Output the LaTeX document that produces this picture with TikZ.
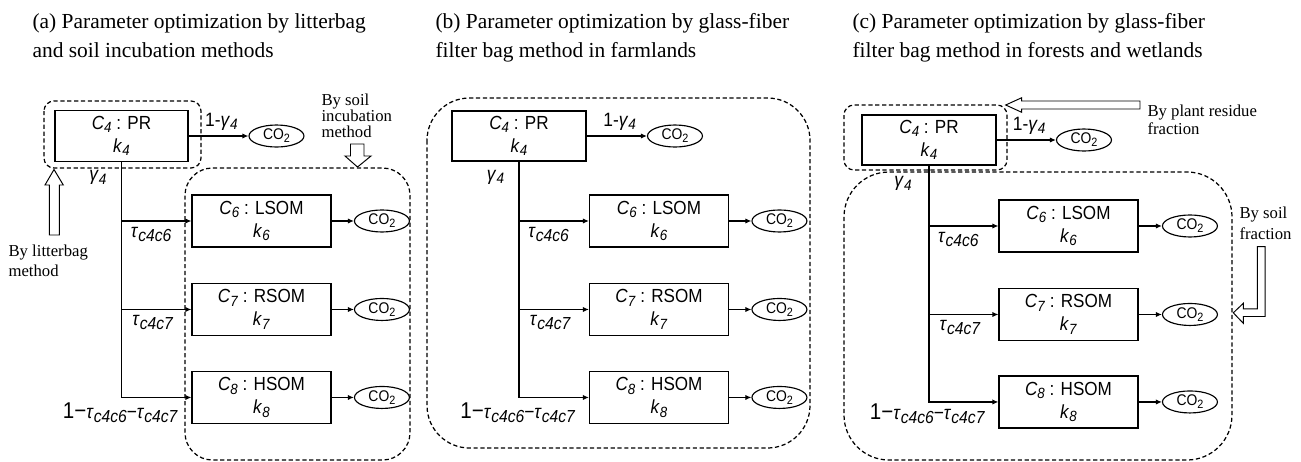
\documentclass[tikz,border=0pt]{standalone}
\usepackage{fontspec}
\usepackage{graphicx}
\setmainfont{Liberation Serif}
\newfontfamily\gothic[FakeStretch=0.9]{Liberation Sans}
\usetikzlibrary{arrows.meta,positioning,shapes.geometric}

% pool names and rate constants
\newcommand\lowidx[1]{\raisebox{-0.35ex}{\scalebox{0.78}{#1}}}
\newcommand\carbon[1]{\textit{C}\lowidx{\textit{#1}}}
\newcommand\rate[1]{\textit{k}\lowidx{\textit{#1}}}
\newcommand\transfer[1]{\textit{τ}\raisebox{-0.4ex}{\scalebox{0.9}{\textit{c4c#1}}}}
\newcommand\gasout{CO\lowidx{2}}

\begin{document}
\begin{tikzpicture}[%
    >={Latex[length=3.4pt,width=3pt]},
    x=0.02cm, y=-0.02cm,
    on grid,
    line width=0.65pt,
    pool/.style={draw, minimum width=2.78cm, minimum height=1.04cm, inner sep=0pt,
        align=center, font=\gothic\fontsize{10.8}{13}\selectfont},
    gas/.style={draw, ellipse, minimum width=1.1cm, minimum height=0.44cm, inner sep=0pt,
        font=\gothic\fontsize{8.8}{8.8}\selectfont},
    flux/.style={font=\gothic\fontsize{11}{12}\selectfont, inner sep=1pt},
    frame/.style={draw, line width=0.7pt, dash pattern=on 2.4pt off 1.5pt},
    hollow/.style={draw, fill=white, line width=0.55pt, line join=miter},
    note/.style={font=\fontsize{9.5}{10.5}\selectfont, align=left, inner sep=0pt, anchor=west},
    heading/.style={font=\fontsize{12.2}{16.5}\selectfont, align=left, inner sep=0pt, anchor=north west}
    ]

    \path[use as bounding box, fill=white] (0,0) rectangle (1301,461);

    % titles
    \node[heading] (tita) at (32,13) {(a) Parameter optimization by litterbag\\and soil incubation methods};
    \node[heading] (titb) at (435,13) {(b) Parameter optimization by glass-fiber\\filter bag method in farmlands};
    \node[heading] (titc) at (852,13) {(c) Parameter optimization by glass-fiber\\filter bag method in forests and wetlands};

    % (a) litterbag and soil incubation
    \node[pool, minimum width=2.66cm, minimum height=1.02cm] (pra) at (121.5,136) {\carbon{4} : PR\\\rate{4}};
    \node[gas] (coa4) [right=3.1cm of pra] {\gasout};
    \node[pool] (lsa) [below right=1.7cm and 2.8cm of pra] {\carbon{6} : LSOM\\\rate{6}};
    \node[pool] (rsa) [below=1.77cm of lsa] {\carbon{7} : RSOM\\\rate{7}};
    \node[pool] (hsa) [below=1.76cm of rsa] {\carbon{8} : HSOM\\\rate{8}};
    \node[gas] (coa6) [right=2.41cm of lsa] {\gasout};
    \node[gas] (coa7) [right=2.41cm of rsa] {\gasout};
    \node[gas] (coa8) [right=2.41cm of hsa] {\gasout};
    \node[flux] (gaa) [below left=0.31cm and 0.47cm of pra.south, anchor=center] {\textit{γ}\lowidx{\textit{4}}};
    \node[flux] (rema) [below left=0.31cm and 1.42cm of hsa.west, anchor=center]
        {{\fontsize{13}{13}\selectfont 1−}\transfer{6}−\transfer{7}};

    \path[->] (pra) edge node[flux, above=2pt, pos=0.55] {1-\textit{γ}\lowidx{\textit{4}}} (coa4);
    \draw[->] (pra.south) |- (hsa);
    \draw[->] (pra.south |- lsa) -- node[flux, below=2pt, xshift=-3pt] {\transfer{6}} (lsa);
    \draw[->] (pra.south |- rsa) -- node[flux, below=2pt, xshift=-2pt] {\transfer{7}} (rsa);
    \path[->] (lsa) edge (coa6) (rsa) edge (coa7) (hsa) edge (coa8);

    \draw[frame, rounded corners=0.2cm] (44,101) rectangle (201,168);
    \draw[frame, rounded corners=0.55cm] (185,168) rectangle (410,460);
    \node[note, font=\fontsize{9.5}{9}\selectfont] (soila) at (321,116) {By soil\\incubation\\method};
    \draw[hollow] (350.5,144) -- (364,144) -- (364,156) -- (371,156) -- (357.5,167)
        -- (345,156) -- (350.5,156) -- cycle;
    \node[note, font=\fontsize{9.5}{11.5}\selectfont] (bagnote) at (8,261) {By litterbag\\method};
    \draw[hollow] (49.3,235) -- (49.3,185) -- (45,185) -- (54,169.5) -- (63.3,185)
        -- (59.3,185) -- (59.3,235) -- cycle;

    % (b) glass-fiber bags in farmlands
    \node[pool, minimum width=2.68cm, minimum height=1.0cm] (prb) at (519,136) {\carbon{4} : PR\\\rate{4}};
    \node[gas] (cob4) [right=3.12cm of prb] {\gasout};
    \node[pool] (lsb) [below right=1.7cm and 2.8cm of prb] {\carbon{6} : LSOM\\\rate{6}};
    \node[pool] (rsb) [below=1.77cm of lsb] {\carbon{7} : RSOM\\\rate{7}};
    \node[pool] (hsb) [below=1.76cm of rsb] {\carbon{8} : HSOM\\\rate{8}};
    \node[gas] (cob6) [right=2.41cm of lsb] {\gasout};
    \node[gas] (cob7) [right=2.41cm of rsb] {\gasout};
    \node[gas] (cob8) [right=2.41cm of hsb] {\gasout};
    \node[flux] (gab) [below left=0.31cm and 0.47cm of prb.south, anchor=center] {\textit{γ}\lowidx{\textit{4}}};
    \node[flux] (remb) [below left=0.31cm and 1.42cm of hsb.west, anchor=center]
        {{\fontsize{13}{13}\selectfont 1−}\transfer{6}−\transfer{7}};

    \path[->] (prb) edge node[flux, above=2pt, pos=0.55] {1-\textit{γ}\lowidx{\textit{4}}} (cob4);
    \draw[->] (prb.south) |- (hsb);
    \draw[->] (prb.south |- lsb) -- node[flux, below=2pt, xshift=-3pt] {\transfer{6}} (lsb);
    \draw[->] (prb.south |- rsb) -- node[flux, below=2pt, xshift=-2pt] {\transfer{7}} (rsb);
    \path[->] (lsb) edge (cob6) (rsb) edge (cob7) (hsb) edge (cob8);

    \draw[frame, rounded corners=0.85cm] (427,98) rectangle (810,448);

    % (c) glass-fiber bags in forests and wetlands
    \node[pool, minimum width=2.68cm, minimum height=1.0cm] (prc) at (929,140) {\carbon{4} : PR\\\rate{4}};
    \node[gas] (coc4) [right=3.1cm of prc] {\gasout};
    \node[pool] (lsc) [below right=1.72cm and 2.79cm of prc] {\carbon{6} : LSOM\\\rate{6}};
    \node[pool] (rsc) [below=1.77cm of lsc] {\carbon{7} : RSOM\\\rate{7}};
    \node[pool] (hsc) [below=1.75cm of rsc] {\carbon{8} : HSOM\\\rate{8}};
    \node[gas] (coc6) [right=2.43cm of lsc] {\gasout};
    \node[gas] (coc7) [right=2.43cm of rsc] {\gasout};
    \node[gas] (coc8) [right=2.43cm of hsc] {\gasout};
    \node[flux] (gac) [below left=0.36cm and 0.52cm of prc.south, anchor=center] {\textit{γ}\lowidx{\textit{4}}};
    \node[flux] (remc) [below left=0.24cm and 1.42cm of hsc.west, anchor=center]
        {{\fontsize{13}{13}\selectfont 1−}\transfer{6}−\transfer{7}};

    \path[->] (prc) edge node[flux, above=2pt, pos=0.55] {1-\textit{γ}\lowidx{\textit{4}}} (coc4);
    \draw[->] (prc.south) |- (hsc);
    \draw[->] (prc.south |- lsc) -- node[flux, below=2pt, xshift=-3pt] {\transfer{6}} (lsc);
    \draw[->] (prc.south |- rsc) -- node[flux, below=2pt, xshift=-2pt] {\transfer{7}} (rsc);
    \path[->] (lsc) edge (coc6) (rsc) edge (coc7) (hsc) edge (coc8);

    \draw[frame, rounded corners=0.2cm] (844,105) rectangle (1007,170);
    \draw[frame, rounded corners=0.9cm] (844,172) rectangle (1232,460);
    \draw[hollow] (1140,101) -- (1021.7,101) -- (1021.7,97.7) -- (1005.7,105)
        -- (1021.7,112.3) -- (1021.7,109) -- (1140,109) -- cycle;
    \node[note, font=\fontsize{9.5}{10.5}\selectfont] (resc) at (1147,120) {By plant residue\\fraction};
    \node[note, font=\fontsize{9.5}{12}\selectfont] (soilc) at (1239,223.5) {By soil\\fraction};
    \draw[hollow] (1257.3,246.7) -- (1265,246.7) -- (1265,316.5) -- (1243.3,316.5) -- (1243.3,323.3)
        -- (1233.3,312.8) -- (1243.3,303.3) -- (1243.3,308.8) -- (1257.3,308.8) -- cycle;

\end{tikzpicture}
\end{document}
